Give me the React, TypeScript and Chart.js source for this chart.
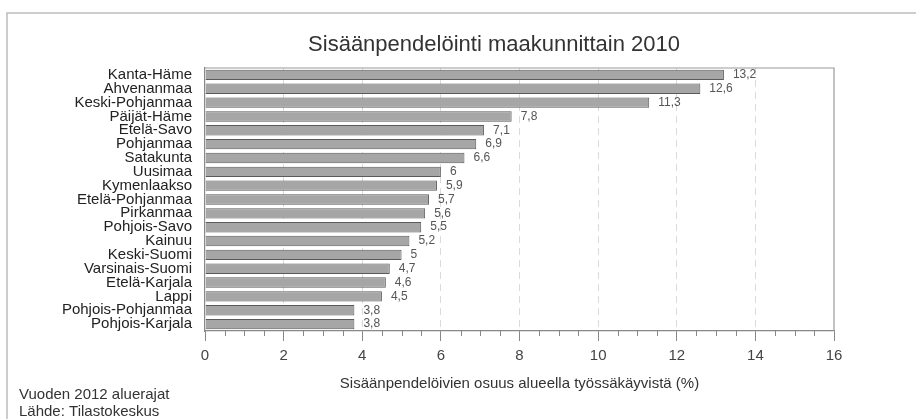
import React, { useEffect, useRef } from "react";
import { Chart, registerables } from "chart.js";

Chart.register(...registerables);

const FONT = '"Liberation Sans", Arial, Helvetica, sans-serif';

const TITLE = "Sisäänpendelöinti maakunnittain 2010";
const AXIS_TITLE = "Sisäänpendelöivien osuus alueella työssäkäyvistä (%)";
const NOTES = ["Vuoden 2012 aluerajat", "Lähde: Tilastokeskus"];

const regions = [
  "Kanta-Häme",
  "Ahvenanmaa",
  "Keski-Pohjanmaa",
  "Päijät-Häme",
  "Etelä-Savo",
  "Pohjanmaa",
  "Satakunta",
  "Uusimaa",
  "Kymenlaakso",
  "Etelä-Pohjanmaa",
  "Pirkanmaa",
  "Pohjois-Savo",
  "Kainuu",
  "Keski-Suomi",
  "Varsinais-Suomi",
  "Etelä-Karjala",
  "Lappi",
  "Pohjois-Pohjanmaa",
  "Pohjois-Karjala",
];

const shares = [13.2, 12.6, 11.3, 7.8, 7.1, 6.9, 6.6, 6, 5.9, 5.7, 5.6, 5.5, 5.2, 5, 4.7, 4.6, 4.5, 3.8, 3.8];

const X_MIN = 0;
const X_MAX = 16;
const MAJOR_STEP = 2;
const MINOR_STEP = 0.5;

const fmt = (v: number) => String(v).replace(".", ",");

const decorPlugin = {
  id: "decor",
  afterDraw(chart: any) {
    const { ctx, chartArea } = chart;
    const xs = chart.scales.x;
    ctx.save();
    // outer frame
    ctx.strokeStyle = "#bdbdbd";
    ctx.lineWidth = 1.5;
    ctx.beginPath();
    ctx.moveTo(7, chart.height);
    ctx.lineTo(7, 13);
    ctx.lineTo(chart.width, 13);
    ctx.stroke();

    // plot top & right border
    ctx.strokeStyle = "#9a9a9a";
    ctx.lineWidth = 1.2;
    ctx.beginPath();
    ctx.moveTo(chartArea.left, chartArea.top);
    ctx.lineTo(chartArea.right, chartArea.top);
    ctx.lineTo(chartArea.right, chartArea.bottom);
    ctx.stroke();

    // minor ticks
    ctx.strokeStyle = "#888";
    ctx.lineWidth = 1;
    ctx.beginPath();
    for (let v = X_MIN; v <= X_MAX + 1e-9; v += MINOR_STEP) {
      if (Math.abs(v / MAJOR_STEP - Math.round(v / MAJOR_STEP)) < 1e-6) continue;
      const px = Math.round(xs.getPixelForValue(v)) + 0.5;
      ctx.moveTo(px, chartArea.bottom);
      ctx.lineTo(px, chartArea.bottom + 5);
    }
    ctx.stroke();

    // title
    ctx.fillStyle = "#333";
    ctx.font = `22px ${FONT}`;
    ctx.textAlign = "center";
    ctx.textBaseline = "middle";
    ctx.fillText(TITLE, 494, 45);

    // notes
    ctx.font = `15px ${FONT}`;
    ctx.textAlign = "left";
    ctx.fillStyle = "#333";
    NOTES.forEach((t, i) => ctx.fillText(t, 19, 395 + i * 17));
    ctx.restore();
  },
};

const labelPlugin = {
  id: "valueLabels",
  afterDatasetsDraw(chart: any) {
    const { ctx } = chart;
    const meta = chart.getDatasetMeta(0);
    ctx.save();
    ctx.font = `12px ${FONT}`;
    ctx.fillStyle = "#555";
    ctx.textAlign = "left";
    ctx.textBaseline = "middle";
    meta.data.forEach((bar: any, i: number) => {
      ctx.fillText(fmt(shares[i]), bar.x + 9, bar.y);
    });
    ctx.restore();
  },
};

export default function App() {
  const ref = useRef<HTMLCanvasElement | null>(null);

  useEffect(() => {
    document.body.style.margin = "0";
    const canvas = ref.current;
    if (!canvas) return;
    const chart = new Chart(canvas, {
      type: "bar",
      data: {
        labels: regions,
        datasets: [
          {
            data: shares,
            backgroundColor: "#a6a6a6",
            borderColor: "#5a5a5a",
            borderWidth: 1,
            barPercentage: 0.75,
            categoryPercentage: 1,
          },
        ],
      },
      options: {
        indexAxis: "y",
        responsive: false,
        animation: false,
        layout: { padding: { top: 68, right: 82, left: 0, bottom: 0 } },
        plugins: {
          legend: { display: false },
          tooltip: { enabled: false },
          title: { display: false },
        },
        scales: {
          x: {
            type: "linear",
            min: X_MIN,
            max: X_MAX,
            position: "bottom",
            ticks: {
              stepSize: MAJOR_STEP,
              color: "#444",
              font: { size: 15, family: FONT },
              padding: 6,
              maxRotation: 0,
            },
            grid: {
              color: (c: any) =>
                c.tick && c.tick.value > X_MIN && c.tick.value < X_MAX ? "#dadada" : "rgba(0,0,0,0)",
              tickColor: "#888",
              tickLength: 10,
              drawTicks: true,
            },
            border: { display: true, color: "#888", width: 1.2, dash: [7, 5] },
            title: {
              display: true,
              text: AXIS_TITLE,
              color: "#333",
              font: { size: 15, family: FONT },
              padding: { top: 0, bottom: 26 },
            },
            afterFit: (s: any) => {
              s.height = 88;
            },
          },
          y: {
            type: "category",
            ticks: {
              color: "#222",
              font: { size: 15, family: FONT },
              padding: 13,
              autoSkip: false,
            },
            grid: { display: false, drawTicks: false },
            border: { display: true, color: "#888", width: 1.2 },
            afterFit: (s: any) => {
              s.width = 205;
            },
          },
        },
      } as any,
      plugins: [decorPlugin, labelPlugin],
    });
    return () => chart.destroy();
  }, []);

  return (
    <div style={{ width: 916, height: 419, background: "#fff" }}>
      <canvas ref={ref} width={916} height={419} style={{ display: "block" }} />
    </div>
  );
}
